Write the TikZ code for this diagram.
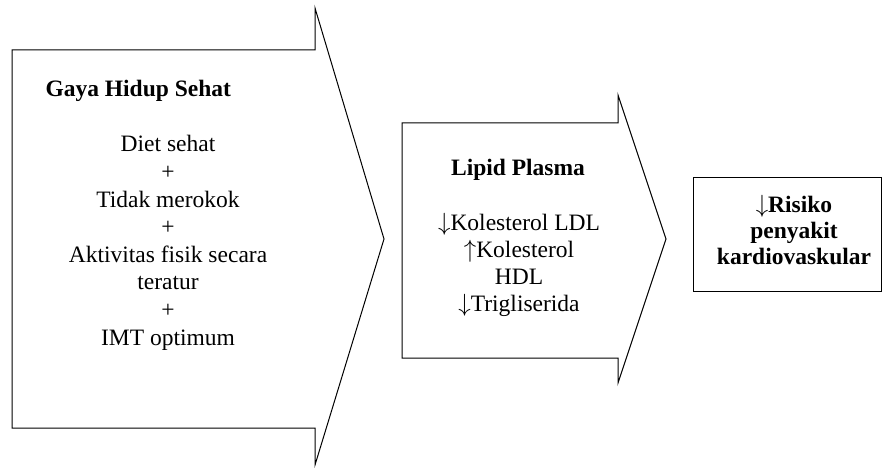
\documentclass[tikz,border=0pt]{standalone}
\usepackage{fontspec}
\setmainfont{Liberation Serif}
\usepackage{tikz}

\begin{document}
\begin{tikzpicture}[x=1pt, y=-1pt, line width=1pt,
		txt/.style={align=center, inner sep=0pt, font=\fontsize{23.5}{27.6}\selectfont},
		head/.style={inner sep=0pt, font=\fontsize{23.5}{27.6}\selectfont\bfseries}]
			\useasboundingbox (0,0) rectangle (883,468);
			% Arrows
			\draw (12,50) -- (315,50) -- (315,8) -- (384,239) -- (315,465) -- (315,428) -- (12,428) -- cycle;
			\draw (402,123) -- (618,123) -- (618,95) -- (666,239) -- (618,383) -- (618,358) -- (402,358) -- cycle;
			\draw (693,177) rectangle (881,291);
			% Nodes
			\node[head, anchor=base west] (gaya) at (45,97) {Gaya Hidup Sehat};
			\node[txt, anchor=north] (sehat) at (168,135) {Diet sehat\\+\\Tidak merokok\\+\\Aktivitas fisik secara\\teratur\\+\\IMT optimum};
			\node[head, anchor=base] (lipid) at (518,175) {Lipid Plasma};
			\node[txt, anchor=north, font=\fontsize{23.5}{27}\selectfont] (plasma) at (519,213) {$\downarrow$Kolesterol LDL\\$\uparrow$Kolesterol\\HDL\\$\downarrow$Trigliserida};
			\node[txt, anchor=north, font=\fontsize{23.5}{26}\selectfont\bfseries] (risiko) at (794,195) {$\downarrow$Risiko\\penyakit\\kardiovaskular};
		\end{tikzpicture}
\end{document}
